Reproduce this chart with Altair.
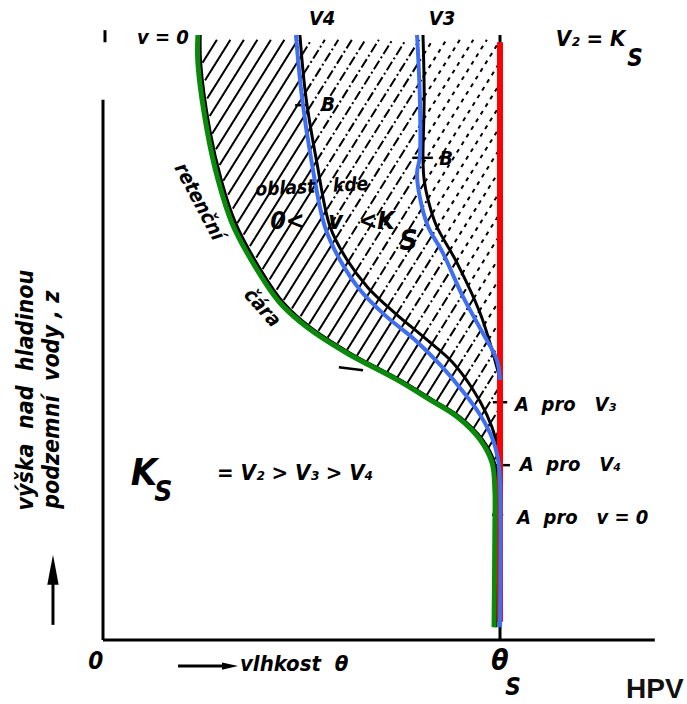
import numpy as np
import pandas as pd
import altair as alt

# ---- data (theta in % of saturated moisture, z in % of drawn height) ----
v0_theta = [23.9, 23.9, 26.2, 29.0, 32.5, 38.8, 44.6, 51.4, 61.5, 74.1, 82.4, 89.2, 95.0, 98.0, 98.7, 98.7, 98.5]
v0_z     = [100, 95.4, 84.3, 76.0, 68.9, 61.2, 55.7, 51.7, 47.4, 43.0, 39.7, 36.9, 33.1, 29.3, 24.8, 18.2, 2.1]

v0k_theta = [24.5, 24.6, 26.9, 29.8, 33.4, 39.7, 45.5, 52.2, 62.3, 74.8, 83.0, 89.8, 95.6, 98.6, 99.2, 99.2, 99.0]
v0k_z     = [100, 95.4, 84.3, 76.0, 68.9, 61.2, 55.7, 51.7, 47.4, 43.0, 39.7, 36.9, 33.1, 29.3, 24.8, 18.2, 2.1]

v4_theta = [48.6, 50.1, 52.6, 55.9, 59.7, 64.7, 71.0, 78.6, 84.9, 90.4, 95.0, 98.2, 99.5, 100, 100]
v4_z     = [100, 89.8, 78.8, 68.3, 62.8, 57.9, 53.7, 49.6, 45.5, 41.3, 37.2, 33.1, 29.8, 26.4, 2.1]

v4k_theta = [49.6, 51.1, 53.9, 57.2, 61.5, 66.8, 73.6, 81.1, 87.9, 92.9, 96.7, 99.0, 100]
v4k_z     = [100, 89.8, 78.8, 68.3, 62.8, 58.2, 54.0, 49.9, 46.0, 41.7, 37.2, 33.1, 29.8]

v3_theta = [79.1, 79.8, 79.8, 79.1, 79.8, 81.9, 85.6, 90.7, 95.7, 99.2, 100]
v3_z     = [100, 89.8, 79.8, 77.2, 73.2, 68.3, 64.0, 56.7, 50.7, 46.3, 43.0]

v3k_theta = [80.6, 80.9, 80.6, 80.9, 81.9, 83.9, 89.2, 95.0, 98.7, 100]
v3k_z     = [100, 89.8, 79.3, 76.0, 72.7, 68.6, 62.3, 54.0, 46.3, 43.0]

theta_s = 100.0

# ---- scales: fill whole canvas ----
W, H = 687, 704
XD = [-25.945, 147.10]
YD = [-10.579, 105.785]
xs = alt.Scale(domain=XD, nice=False, zero=False)
ys = alt.Scale(domain=YD, nice=False, zero=False)
FONT = "DejaVu Sans Condensed, DejaVu Sans, sans-serif"
SP = "\u00a0"


def curve_df(th, z):
    return pd.DataFrame({"theta": th, "z": z, "i": range(len(th))})


def curve(th, z, color, width):
    return alt.Chart(curve_df(th, z)).mark_line(
        color=color, strokeWidth=width, interpolate="catmull-rom", strokeCap="butt"
    ).encode(
        x=alt.X("theta:Q", scale=xs, axis=None),
        y=alt.Y("z:Q", scale=ys, axis=None),
        order="i:Q",
    )


# ---- hatching between retention curve and theta_s ----
def interp_z(z, zs, ths):
    return np.interp(z, np.array(zs)[::-1], np.array(ths)[::-1])

k = 1.05     # slope dz/dtheta of hatch lines
step = 3.4   # spacing in theta
zz = np.arange(0.5, 99.3, 0.1)
left = interp_z(zz, v0k_z, v0k_theta)
b4 = interp_z(zz, v4k_z, v4k_theta)
b3 = interp_z(zz, v3k_z, v3k_theta)
rows = []
for c in np.arange(-110, 100, step):
    th = c + zz / k
    inside = (th > left + 0.4) & (th < theta_s - 0.4)
    zone = np.where(th < b4, "1", np.where(th < b3, "2", "3"))
    start = None
    for j in range(len(zz) + 1):
        ok = j < len(zz) and inside[j]
        if start is not None and (not ok or zone[j] != zone[start]):
            if j - 1 - start > 3:
                rows.append(dict(t1=th[start], t2=th[j - 1], z1=zz[start], z2=zz[j - 1], zone=zone[start]))
            start = None
        if ok and start is None:
            start = j
hatch_df = pd.DataFrame(rows)

hatch = alt.Chart(hatch_df).mark_rule(color="black", strokeWidth=2).encode(
    x=alt.X("t1:Q", scale=xs, axis=None), x2="t2:Q",
    y=alt.Y("z1:Q", scale=ys, axis=None), y2="z2:Q",
    strokeDash=alt.StrokeDash("zone:N", scale=alt.Scale(domain=["1", "2", "3"],
                              range=[[1, 0], [10, 3, 2, 3], [4, 5]]), legend=None),
)

# ---- axes & small marks ----
rules_df = pd.DataFrame([
    dict(t1=0, t2=0, z1=0, z2=89.3, w=3),            # y axis
    dict(t1=0, t2=139.0, z1=0, z2=0, w=3),            # x axis
    dict(t1=100, t2=100, z1=0, z2=100, w=3),          # theta_s line (black)
    dict(t1=0.5, t2=0.5, z1=98.8, z2=100.8, w=3),     # top mark
    dict(t1=48.4, t2=51.4, z1=88.4, z2=88.4, w=2.5),  # B tick V4
    dict(t1=78.1, t2=83.1, z1=79.7, z2=79.7, w=2.5),  # B tick V3
    dict(t1=59.4, t2=65.5, z1=45.1, z2=44.6, w=2.5),  # small tick
    dict(t1=98.2, t2=101.8, z1=39.3, z2=39.3, w=2.5), # A ticks
    dict(t1=98.2, t2=102.5, z1=28.9, z2=28.9, w=2.5),
    dict(t1=98.0, t2=100.8, z1=20.7, z2=20.7, w=2.5),
    dict(t1=-12.6, t2=-12.6, z1=2.5, z2=10.5, w=3),   # up arrow shaft
    dict(t1=18.9, t2=31.0, z1=-4.3, z2=-4.3, w=3),    # right arrow shaft
])
rules = alt.Chart(rules_df).mark_rule(color="black").encode(
    x=alt.X("t1:Q", scale=xs, axis=None), x2="t2:Q",
    y=alt.Y("z1:Q", scale=ys, axis=None), y2="z2:Q",
    strokeWidth=alt.StrokeWidth("w:Q", scale=None),
)

heads_df = pd.DataFrame([
    dict(t=-12.6, z=11.6, shape="M0,-1L0.38,1L-0.38,1Z", s=900),
    dict(t=32.0, z=-4.3, shape="M1,0L-1,-0.45L-1,0.45Z", s=260),
])
heads = alt.Chart(heads_df).mark_point(filled=True, color="black", opacity=1, strokeWidth=0).encode(
    x=alt.X("t:Q", scale=xs, axis=None),
    y=alt.Y("z:Q", scale=ys, axis=None),
    shape=alt.Shape("shape:N", scale=None),
    size=alt.Size("s:Q", scale=None),
)

red = alt.Chart(pd.DataFrame({"t": [theta_s], "z1": [3.0], "z2": [98.8]})).mark_rule(
    color="#ff0000", strokeWidth=6).encode(
    x=alt.X("t:Q", scale=xs, axis=None),
    y=alt.Y("z1:Q", scale=ys, axis=None), y2="z2:Q")

# ---- texts ----
txt_c = pd.DataFrame([
    dict(text="v = 0", t=15.1, z=99.5, s=20, a=0),
    dict(text="V4", t=55.2, z=102.6, s=20, a=0),
    dict(text="V3", t=85.4, z=102.6, s=20, a=0),
    dict(text="V₂ = K", t=122.8, z=99.3, s=22, a=0),
    dict(text="S", t=134.0, z=96.0, s=24, a=0),
    dict(text="B", t=56.7, z=88.4, s=20, a=0),
    dict(text="B", t=86.4, z=79.5, s=20, a=0),
    dict(text=f"oblast{SP*3}kde", t=52.6, z=74.9, s=19, a=-3),
    dict(text=f"0<{SP*3}v{SP*2}<K", t=57.8, z=69.3, s=25, a=0),
    dict(text="S", t=77.0, z=65.8, s=28, a=0),
    dict(text="retenční", t=24.2, z=72.4, s=20, a=62),
    dict(text="čára", t=40.1, z=54.9, s=20, a=48),
    dict(text="K", t=10.3, z=27.4, s=38, a=0),
    dict(text="S", t=15.2, z=24.3, s=28, a=0),
    dict(text=f"={SP}V₂{SP}>{SP}V₃{SP}>{SP}V₄", t=48.4, z=27.6, s=22, a=0),
    dict(text=f"výška{SP*2}nad{SP*2}hladinou", t=-19.3, z=41.3, s=23, a=270),
    dict(text=f"podzemní{SP*2}vody{SP},{SP}z", t=-12.8, z=39.7, s=23, a=270),
    dict(text="0", t=-1.8, z=-3.6, s=24, a=0),
    dict(text="θ", t=100, z=-3.6, s=28, a=0),
    dict(text="S", t=103.3, z=-8.0, s=24, a=0),
])
texts_c = alt.Chart(txt_c).mark_text(
    font=FONT, fontStyle="italic", fontWeight="bold", color="black", baseline="middle", align="center"
).encode(
    x=alt.X("t:Q", scale=xs, axis=None),
    y=alt.Y("z:Q", scale=ys, axis=None),
    text="text:N",
    size=alt.Size("s:Q", scale=None),
    angle=alt.Angle("a:Q", scale=None),
)

txt_l = pd.DataFrame([
    dict(text=f"A{SP*2}pro{SP*3}V₃", t=103.8, z=38.8, s=20),
    dict(text=f"A{SP*2}pro{SP*3}V₄", t=105.0, z=28.9, s=20),
    dict(text=f"A{SP*2}pro{SP*3}v{SP}={SP}0", t=104.3, z=20.2, s=20),
    dict(text=f"vlhkost{SP*2}θ", t=34.5, z=-4.0, s=22),
])
texts_l = alt.Chart(txt_l).mark_text(
    font=FONT, fontStyle="italic", fontWeight="bold", color="black", baseline="middle", align="left"
).encode(
    x=alt.X("t:Q", scale=xs, axis=None),
    y=alt.Y("z:Q", scale=ys, axis=None),
    text="text:N",
    size=alt.Size("s:Q", scale=None),
)

hpv = alt.Chart(pd.DataFrame({"text": ["HPV"], "t": [139.0], "z": [-8.3]})).mark_text(
    font="Liberation Sans, Arial, sans-serif", fontWeight="bold", fontSize=28,
    color="#111111", baseline="middle", align="center"
).encode(
    x=alt.X("t:Q", scale=xs, axis=None),
    y=alt.Y("z:Q", scale=ys, axis=None),
    text="text:N",
)

chart = alt.layer(
    hatch,
    rules,
    curve(v0k_theta, v0k_z, "black", 3),
    curve(v4k_theta, v4k_z, "black", 3),
    curve(v3k_theta, v3k_z, "black", 3),
    red,
    curve(v0_theta, v0_z, "#0a8a0a", 5),
    curve(v4_theta, v4_z, "#3f6ef2", 4),
    curve(v3_theta, v3_z, "#3f6ef2", 4),
    heads,
    texts_c,
    texts_l,
    hpv,
).properties(
    width=W, height=H, padding=0, autosize=alt.AutoSizeParams(type="none"),
    background="white",
).configure_view(stroke=None)

chart.save("out.html", embed_options={"renderer": "svg", "actions": False})
